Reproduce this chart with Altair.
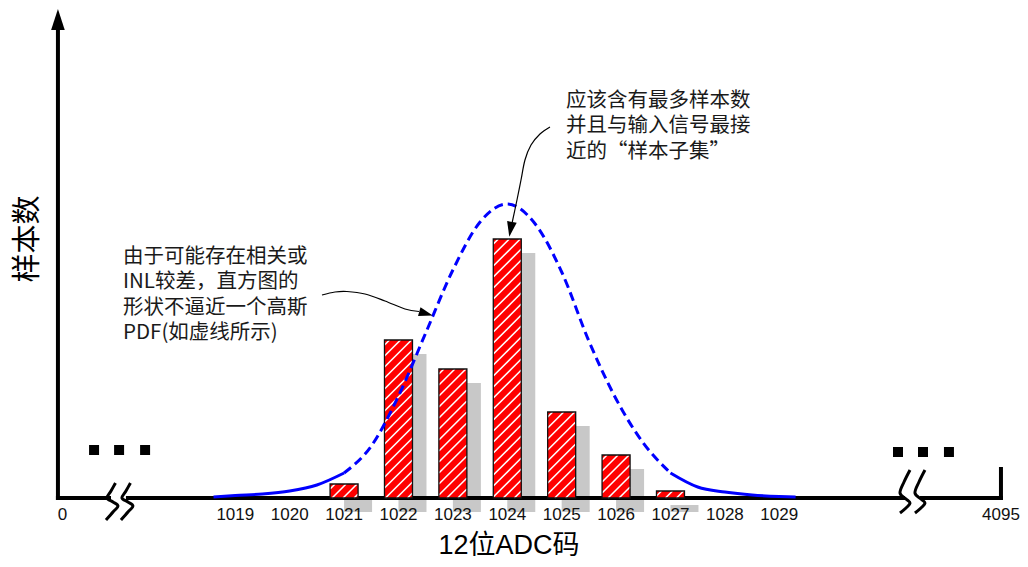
import altair as alt
import pandas as pd

# ---------------- data ----------------
codes = [1021, 1022, 1023, 1024, 1025, 1026, 1027]
counts = [14, 158, 129, 259, 86, 43, 7]

curve_codes = [1018.6, 1019, 1019.5, 1020, 1020.5, 1021, 1021.5, 1022, 1022.5, 1023, 1023.5,
               1024, 1024.5, 1025, 1025.5, 1026, 1026.5, 1027, 1027.5, 1028, 1028.5, 1029, 1029.3]
curve_vals = [1, 2.5, 4, 7, 13, 25, 52, 102, 165, 228, 276,
              294, 275, 226, 157, 99, 55, 25, 11, 6, 3, 1.5, 1]

tick_codes = list(range(1019, 1030))
tick_labels = [str(c) for c in tick_codes]
end_labels = ["0", "4095"]

x_title = "12位ADC码"
y_title = "样本数"
note_left = ["由于可能存在相关或", "INL较差，直方图的", "形状不逼近一个高斯", "PDF(如虚线所示)"]
note_right = ["应该含有最多样本数", "并且与输入信号最接", "近的“样本子集”"]

# ---------------- layout ----------------
W, H = 1012, 551
XDOM = [1014.822, 1033.425]
YDOM = [-61, 490]
PPC = W / (XDOM[1] - XDOM[0])      # pixels per code
BAR_PX = 28
HW = BAR_PX / 2 / PPC
AX_X0 = 1015.74                    # vertical axis position
AX_X1 = 1033.075                   # right end of broken axis
END_POS = [1015.823, 1033.075]     # positions of the "0" / "4095" labels
LABEL_Y = -16.5

CJK = "Noto Sans CJK SC"
LAT = "Liberation Sans"

xs = alt.Scale(domain=XDOM, nice=False, zero=False)
ys = alt.Scale(domain=YDOM, nice=False, zero=False)


def X(f):
    return alt.X(f, type="quantitative", scale=xs, axis=None)


def Y(f):
    return alt.Y(f, type="quantitative", scale=ys, axis=None)


bars = pd.DataFrame({"code": codes, "count": counts})
bars["x0"] = bars["code"] - HW
bars["x1"] = bars["code"] + HW
bars["base"] = 0

# hatch lines (45 degrees in pixel space), derived from bar values
hatch = []
for c, v in zip(codes, counts):
    L = c - HW
    b = v - 5
    while b > -BAR_PX:
        s = max(0, -b)
        e = min(BAR_PX, v - b)
        if e - s > 0.8:
            hatch.append({"x": L + s / PPC, "y": s + b, "x2": L + e / PPC, "y2": e + b})
        b -= 11
hatch = pd.DataFrame(hatch)

curve = pd.DataFrame({"code": curve_codes, "v": curve_vals})
left_tail = curve[curve.code <= 1021]
mid = curve[(curve.code >= 1021) & (curve.code <= 1027)]
right_tail = curve[curve.code >= 1027]

# ---- layers ----
gray = alt.Chart(bars).mark_bar(color="#c8c8c8", xOffset=14, x2Offset=14, yOffset=14, y2Offset=14).encode(
    x=X("x0"), x2="x1", y=Y("count"), y2="base")

axes_df = pd.DataFrame([
    {"x": AX_X0, "y": 0, "x2": AX_X1, "y2": 0},
    {"x": AX_X0, "y": 0, "x2": AX_X0, "y2": 470},
    {"x": AX_X1, "y": 0, "x2": AX_X1, "y2": 29},
])
axes = alt.Chart(axes_df).mark_rule(color="black", strokeWidth=4, strokeCap="square").encode(
    x=X("x"), y=Y("y"), x2="x2", y2="y2")

# axis break symbols
breaks_at = [(1016.715, 1016.99, [(4.5, -15), (0, -7), (-4, 0), (2, 4), (7, 8), (2, 14), (-5, 22)]),
             (1031.311, 1031.586, [(5, -28), (-1, -16), (-5, -5), (1, 1), (5, 5), (1, 10), (-5, 15)])]
gap_rows, s_rows = [], []
k = 0
for p1, p2, shape in breaks_at:
    gap_rows.append({"x": p1, "x2": p2, "y": -3, "y2": 3})
    for p in (p1, p2):
        for i, (dx, dy) in enumerate(shape):
            s_rows.append({"id": k, "o": i, "x": p + dx / PPC, "y": -dy})
        k += 1
gaps = alt.Chart(pd.DataFrame(gap_rows)).mark_rect(color="white").encode(
    x=X("x"), x2="x2", y=Y("y"), y2="y2")
scurves = alt.Chart(pd.DataFrame(s_rows)).mark_line(color="black", strokeWidth=3, interpolate="cardinal").encode(
    x=X("x"), y=Y("y"), detail="id:N", order="o:Q")

red = alt.Chart(bars).mark_bar(color="#ff0000").encode(x=X("x0"), x2="x1", y=Y("count"), y2="base")
hatch_l = alt.Chart(hatch).mark_rule(color="white", strokeWidth=1.6).encode(
    x=X("x"), y=Y("y"), x2="x2", y2="y2")
outline = alt.Chart(bars).mark_bar(fillOpacity=0, stroke="#111111", strokeWidth=1.3).encode(
    x=X("x0"), x2="x1", y=Y("count"), y2="base")

c_mid = alt.Chart(mid).mark_line(color="#0000ff", strokeWidth=3, strokeDash=[9, 5], interpolate="monotone").encode(
    x=X("code"), y=Y("v"))
c_l = alt.Chart(left_tail).mark_line(color="#0000ff", strokeWidth=3, interpolate="monotone").encode(
    x=X("code"), y=Y("v"))
c_r = alt.Chart(right_tail).mark_line(color="#0000ff", strokeWidth=3, interpolate="monotone").encode(
    x=X("code"), y=Y("v"))

# annotation arrows
arrow_rows = []
for i, (x, y) in enumerate(zip([1020.594, 1020.833, 1021.053, 1021.384, 1021.752, 1022.119, 1022.377],
                               [203, 206, 206.5, 204, 197, 189, 186.5])):
    arrow_rows.append({"id": 0, "o": i, "x": x, "y": y})
for i, (x, y) in enumerate(zip([1024.785, 1024.601, 1024.436, 1024.325, 1024.252, 1024.178, 1024.092],
                               [371, 364, 353, 338, 318, 298, 276])):
    arrow_rows.append({"id": 1, "o": i, "x": x, "y": y})
arrows = alt.Chart(pd.DataFrame(arrow_rows)).mark_line(color="black", strokeWidth=1.2, interpolate="cardinal").encode(
    x=X("x"), y=Y("y"), detail="id:N", order="o:Q")

TRI = "M0,-1L0.65,1L-0.65,1Z"
heads_df = pd.DataFrame([
    {"x": 1022.506, "y": 184.5, "a": 106, "s": 196},
    {"x": 1024.061, "y": 268.7, "a": 190, "s": 225},
    {"x": AX_X0, "y": 478.5, "a": 0, "s": 441},
])
heads = alt.Chart(heads_df).mark_point(shape=TRI, filled=True, color="black", opacity=1, strokeWidth=0).encode(
    x=X("x"), y=Y("y"), angle=alt.Angle("a:Q", scale=None), size=alt.Size("s:Q", scale=None))

dots_df = pd.DataFrame({"x": [1016.404, 1016.864, 1017.342, 1031.182, 1031.642, 1032.119],
                        "y": [48, 48, 48, 46, 46, 46]})
dots = alt.Chart(dots_df).mark_square(size=100, color="black", opacity=1).encode(x=X("x"), y=Y("y"))

ticks_df = pd.DataFrame({"x": tick_codes + END_POS, "t": tick_labels + end_labels})
ticks_df["y"] = LABEL_Y
tick_text = alt.Chart(ticks_df).mark_text(font=LAT, fontSize=17, color="#111111", baseline="middle").encode(
    x=X("x"), y=Y("y"), text="t:N")

xt = alt.Chart(pd.DataFrame({"x": [1024.031], "y": [-48], "t": [x_title]})).mark_text(
    font=f"{LAT}, {CJK}", fontSize=27, color="black", baseline="middle").encode(x=X("x"), y=Y("y"), text="t:N")
yt = alt.Chart(pd.DataFrame({"x": [1015.185], "y": [259], "t": [y_title]})).mark_text(
    font=CJK, fontSize=29, color="black", baseline="middle", angle=270).encode(x=X("x"), y=Y("y"), text="t:N")

nl = pd.DataFrame({"t": note_left, "x": 1016.936, "y": [241 - 25.3 * i for i in range(len(note_left))]})
nr = pd.DataFrame({"t": note_right, "x": 1025.079, "y": [397 - 25.3 * i for i in range(len(note_right))]})
notes = alt.Chart(pd.concat([nl, nr])).mark_text(
    font=CJK, fontSize=20.5, color="#1a1a1a", align="left", baseline="middle").encode(
    x=X("x"), y=Y("y"), text="t:N")

chart = alt.layer(gray, axes, gaps, scurves, red, hatch_l, outline, c_l, c_mid, c_r,
                  arrows, heads, dots, tick_text, xt, yt, notes).properties(
    width=W, height=H, padding=0, autosize=alt.AutoSizeParams(type="none"),
    background="white").configure_view(stroke=None)

chart.save("out.html", embed_options={"renderer": "svg", "actions": False})
